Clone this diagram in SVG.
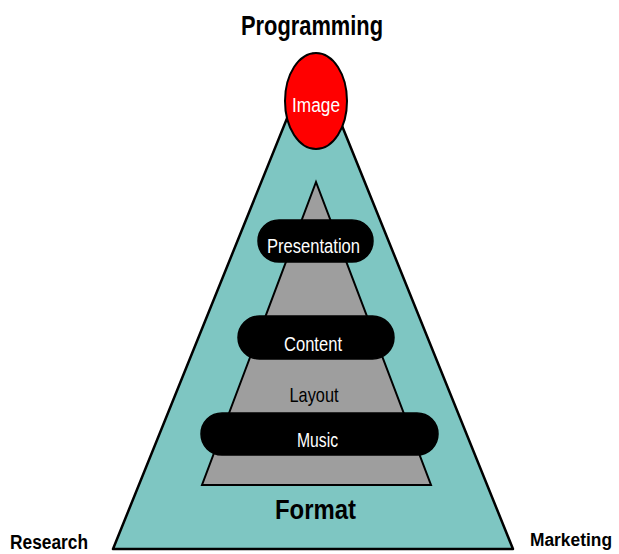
<svg xmlns="http://www.w3.org/2000/svg" width="619" height="554" viewBox="0 0 619 554">
<style>
.lbl{font-family:"Liberation Sans",Arial,sans-serif;}
.b{font-weight:bold;fill:#000;}
.w{fill:#fff;}
.k{fill:#000;}
.pill{fill:#000;stroke:#000;stroke-width:1.5;}
</style>
<rect width="619" height="554" fill="#fff"/>
<g id="outer">
<polygon points="313,54 113,549 513,549" fill="#7EC6C2" stroke="#000" stroke-width="2.5" stroke-linejoin="round"/>
</g>
<g id="inner">
<polygon points="316,182 202,485 431,485" fill="#9E9E9E" stroke="#000" stroke-width="2"/>
</g>
<g id="image">
<ellipse cx="316" cy="101" rx="31" ry="48" fill="#FF0000" stroke="#000" stroke-width="2"/>
<text class="lbl w" x="316" y="112" font-size="20" text-anchor="middle" textLength="48" lengthAdjust="spacingAndGlyphs">Image</text>
</g>
<g id="presentation">
<rect class="pill" x="258" y="220" width="115" height="42" rx="21"/>
<text class="lbl w" x="313.5" y="253" font-size="20" text-anchor="middle" textLength="93" lengthAdjust="spacingAndGlyphs">Presentation</text>
</g>
<g id="content">
<rect class="pill" x="238" y="316" width="156" height="43" rx="21.5"/>
<text class="lbl w" x="313" y="351" font-size="21" text-anchor="middle" textLength="58" lengthAdjust="spacingAndGlyphs">Content</text>
</g>
<g id="layout">
<text class="lbl k" x="314" y="402" font-size="21" text-anchor="middle" textLength="49" lengthAdjust="spacingAndGlyphs">Layout</text>
</g>
<g id="music">
<rect class="pill" x="201" y="413" width="237" height="42" rx="21"/>
<text class="lbl w" x="317.5" y="447" font-size="21" text-anchor="middle" textLength="41" lengthAdjust="spacingAndGlyphs">Music</text>
</g>
<g id="format">
<text class="lbl b" x="315.5" y="519" font-size="28" text-anchor="middle" textLength="81" lengthAdjust="spacingAndGlyphs">Format</text>
</g>
<g id="programming">
<text class="lbl b" x="312" y="35" font-size="28" text-anchor="middle" textLength="142" lengthAdjust="spacingAndGlyphs">Programming</text>
</g>
<g id="research">
<text class="lbl b" x="10" y="549" font-size="20" textLength="78" lengthAdjust="spacingAndGlyphs">Research</text>
</g>
<g id="marketing">
<text class="lbl b" x="530" y="546" font-size="18" textLength="82" lengthAdjust="spacingAndGlyphs">Marketing</text>
</g>
<g id="connectors"></g>
</svg>
